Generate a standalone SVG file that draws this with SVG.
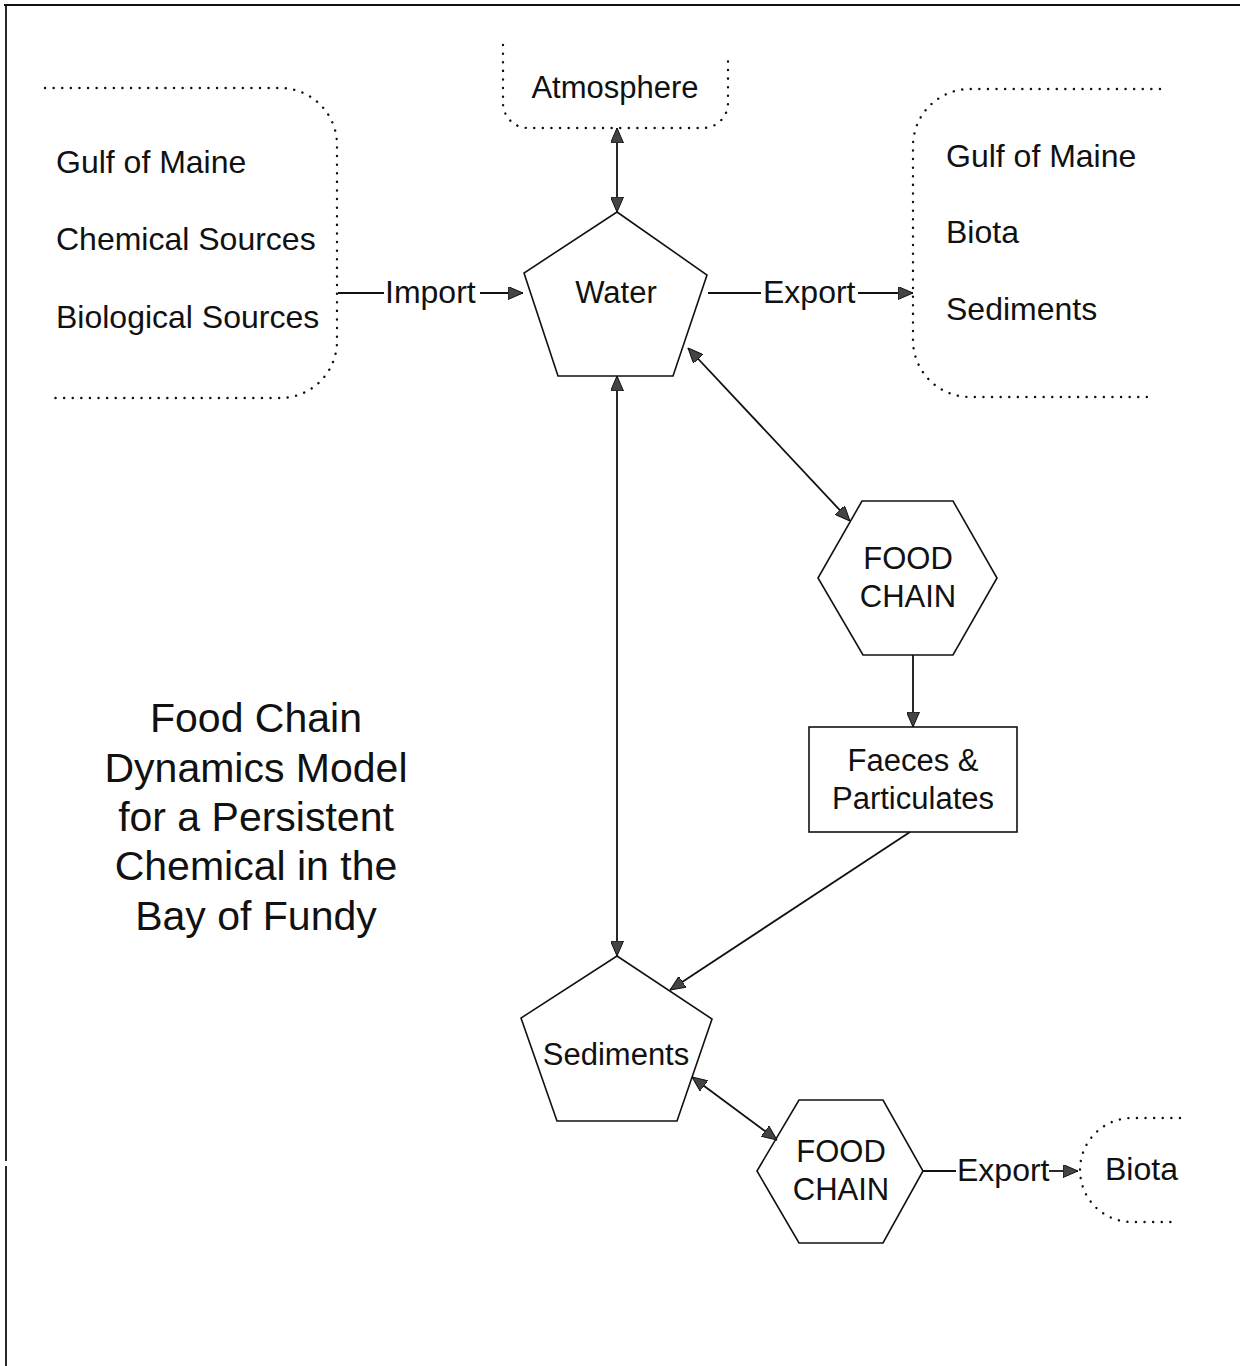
<svg xmlns="http://www.w3.org/2000/svg" width="1240" height="1366" viewBox="0 0 1240 1366">
  <style>
    text { font-family: "Liberation Sans", Arial, sans-serif; fill: #111; }
    .src { font-size: 32px; }
    .lbl { font-size: 31px; text-anchor: middle; }
    .flow { font-size: 32px; }
    .title { font-size: 41px; text-anchor: middle; }
    .shape { fill: #fff; stroke: #111; stroke-width: 1.6; }
    .dots { fill: none; stroke: #111; stroke-width: 2.4; stroke-linecap: round; stroke-dasharray: 0.1 8.5; }
    .conn { fill: none; stroke: #111; stroke-width: 1.8; }
    .frame { fill: none; stroke: #111; stroke-width: 1.8; }
  </style>
  <defs>
    <marker id="arrow" viewBox="0 0 15 13" refX="15" refY="6.5" markerWidth="15" markerHeight="13" markerUnits="userSpaceOnUse" orient="auto-start-reverse">
      <path d="M0,0 L15,6.5 L0,13 Z" fill="#444" stroke="#111" stroke-width="1"/>
    </marker>
  </defs>

  <rect width="1240" height="1366" fill="#fff"/>

  <!-- page frame -->
  <g id="frame">
    <path class="frame" d="M4,5 H1240"/>
    <path class="frame" d="M6,4 V1161 M6,1166 V1366"/>
  </g>

  <!-- external sources -->
  <g id="sources">
    <path class="dots" d="M45,88 H280 A57,57 0 0 1 337,145 V341 A57,57 0 0 1 280,398 H48"/>
    <text class="src" x="56" y="173">Gulf of Maine</text>
    <text class="src" x="56" y="250">Chemical Sources</text>
    <text class="src" x="56" y="328">Biological Sources</text>
  </g>

  <g id="atmosphere">
    <path class="dots" d="M503,45 V103 A25,25 0 0 0 528,128 H703 A25,25 0 0 0 728,103 V55"/>
    <text class="lbl" x="615" y="98">Atmosphere</text>
  </g>

  <g id="sinks">
    <path class="dots" d="M1160,89 H970 A57,57 0 0 0 913,146 V340 A57,57 0 0 0 970,397 H1155"/>
    <text class="src" x="946" y="167">Gulf of Maine</text>
    <text class="src" x="946" y="243">Biota</text>
    <text class="src" x="946" y="320">Sediments</text>
  </g>

  <g id="water">
    <polygon class="shape" points="617,212 707,275 673,376 558,376 524,273"/>
    <text class="lbl" x="616" y="303">Water</text>
  </g>

  <g id="food-chain-water">
    <polygon class="shape" points="862,501 953,501 997,578 953,655 863,655 818,578"/>
    <text class="lbl" x="908" y="569">FOOD</text>
    <text class="lbl" x="908" y="607">CHAIN</text>
  </g>

  <g id="faeces">
    <rect class="shape" x="809" y="727" width="208" height="105"/>
    <text class="lbl" x="913" y="771">Faeces &amp;</text>
    <text class="lbl" x="913" y="809">Particulates</text>
  </g>

  <g id="sediments">
    <polygon class="shape" points="617,956 712,1019 677,1121 557,1121 521,1018"/>
    <text class="lbl" x="616" y="1065">Sediments</text>
  </g>

  <g id="food-chain-sediments">
    <polygon class="shape" points="799,1100 883,1100 923,1171 883,1243 799,1243 757,1171"/>
    <text class="lbl" x="841" y="1162">FOOD</text>
    <text class="lbl" x="841" y="1200">CHAIN</text>
  </g>

  <g id="biota">
    <path class="dots" d="M1180,1118 H1132 A52,52 0 0 0 1132,1222 H1175"/>
    <text class="src" x="1105" y="1180">Biota</text>
  </g>

  <!-- connectors -->
  <g id="connectors">
    <path class="conn" d="M617,128 V212" marker-start="url(#arrow)" marker-end="url(#arrow)"/>
    <path class="conn" d="M338,293 H384"/>
    <text class="flow" x="385" y="303">Import</text>
    <path class="conn" d="M480,293 H523" marker-end="url(#arrow)"/>
    <path class="conn" d="M708,293 H761"/>
    <text class="flow" x="763" y="303">Export</text>
    <path class="conn" d="M858,293 H913" marker-end="url(#arrow)"/>
    <path class="conn" d="M617,376 V956" marker-start="url(#arrow)" marker-end="url(#arrow)"/>
    <path class="conn" d="M688,348 L850,521" marker-start="url(#arrow)" marker-end="url(#arrow)"/>
    <path class="conn" d="M913,655 V727" marker-end="url(#arrow)"/>
    <path class="conn" d="M910,832 L670,990" marker-end="url(#arrow)"/>
    <path class="conn" d="M692,1077 L777,1140" marker-start="url(#arrow)" marker-end="url(#arrow)"/>
    <path class="conn" d="M923,1171 H956"/>
    <text class="flow" x="957" y="1181">Export</text>
    <path class="conn" d="M1049,1171 H1078" marker-end="url(#arrow)"/>
  </g>

  <!-- diagram title -->
  <g id="title">
    <text class="title" x="256" y="732">Food Chain</text>
    <text class="title" x="256" y="782">Dynamics Model</text>
    <text class="title" x="256" y="831">for a Persistent</text>
    <text class="title" x="256" y="880">Chemical in the</text>
    <text class="title" x="256" y="930">Bay of Fundy</text>
  </g>
</svg>
